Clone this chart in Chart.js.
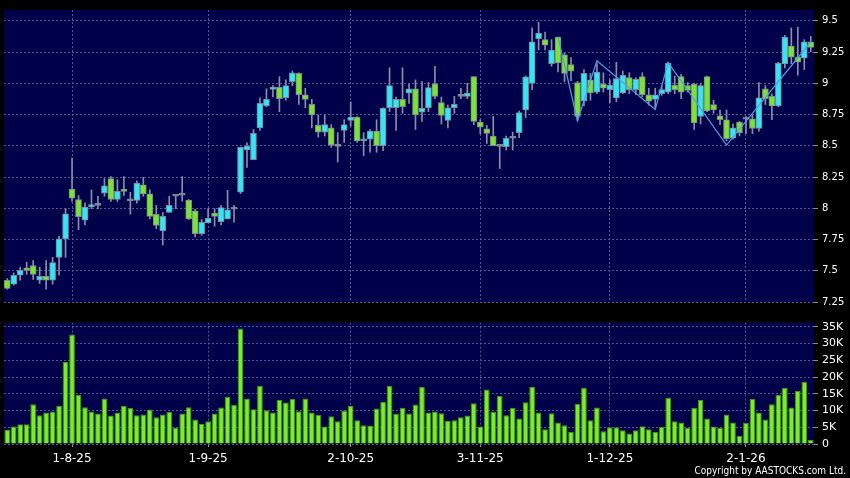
<!DOCTYPE html>
<html>
<head>
<meta charset="utf-8">
<script src="https://cdn.jsdelivr.net/npm/chart.js@4.4.1/dist/chart.umd.min.js"></script>
<style>
  html, body { margin: 0; padding: 0; background: #000; }
  #wrap { position: relative; width: 850px; height: 478px; overflow: hidden; background: #000; }
  #price { position: absolute; left: 0; top: 0; }
  #volume { position: absolute; left: 0; top: 312px; }
  #copy { position: absolute; right: 4px; top: 465px; line-height: 12px; color: #fff;
          font: 10px "DejaVu Sans Condensed", "DejaVu Sans", sans-serif; }
</style>
</head>
<body>
<div id="wrap">
  <canvas id="price" width="850" height="312"></canvas>
  <canvas id="volume" width="850" height="166"></canvas>
  <div id="copy">Copyright by AASTOCKS.com Ltd.</div>
</div>
<script>
// trading days, one per candle
const dates = [
  '18-7-25','21-7-25','22-7-25','23-7-25','24-7-25','25-7-25','28-7-25','29-7-25','30-7-25','31-7-25',
  '1-8-25','4-8-25','5-8-25','6-8-25','7-8-25','8-8-25','11-8-25','12-8-25','13-8-25','14-8-25','15-8-25',
  '18-8-25','19-8-25','20-8-25','21-8-25','22-8-25','25-8-25','26-8-25','27-8-25','28-8-25','29-8-25',
  '1-9-25','2-9-25','3-9-25','4-9-25','5-9-25','8-9-25','9-9-25','10-9-25','11-9-25','12-9-25','15-9-25',
  '16-9-25','17-9-25','18-9-25','19-9-25','22-9-25','23-9-25','24-9-25','25-9-25','26-9-25','29-9-25','30-9-25',
  '2-10-25','3-10-25','6-10-25','8-10-25','9-10-25','10-10-25','13-10-25','14-10-25','15-10-25','16-10-25',
  '17-10-25','20-10-25','21-10-25','22-10-25','23-10-25','24-10-25','27-10-25','28-10-25','30-10-25','31-10-25',
  '3-11-25','4-11-25','5-11-25','6-11-25','7-11-25','10-11-25','11-11-25','12-11-25','13-11-25','14-11-25',
  '17-11-25','18-11-25','19-11-25','20-11-25','21-11-25','24-11-25','25-11-25','26-11-25','27-11-25','28-11-25',
  '1-12-25','2-12-25','3-12-25','4-12-25','5-12-25','8-12-25','9-12-25','10-12-25','11-12-25','12-12-25','15-12-25',
  '16-12-25','17-12-25','18-12-25','19-12-25','22-12-25','23-12-25','24-12-25','29-12-25','30-12-25','31-12-25',
  '2-1-26','5-1-26','6-1-26','7-1-26','8-1-26','9-1-26','12-1-26','13-1-26','14-1-26','15-1-26','16-1-26'
];
const tickDates = ['1-8-25', '1-9-25', '2-10-25', '3-11-25', '1-12-25', '2-1-26'];

const opens = [
  7.424, 7.393, 7.464, 7.523, 7.542, 7.424, 7.456, 7.424, 7.607, 7.755,
  8.154, 8.070, 7.904, 8.010, 8.023, 8.120, 8.237, 8.070, 8.154, 8.060,
  8.063, 8.188, 8.115, 7.951, 7.818, 7.966, 8.096, 8.104, 8.065, 7.979,
  7.797, 7.883, 7.961, 7.893, 7.914, 7.992, 8.128, 8.466, 8.388, 8.643,
  8.818, 8.951, 8.968, 8.884, 9.012, 9.079, 8.908, 8.832, 8.664, 8.609,
  8.643, 8.495, 8.622, 8.703, 8.729, 8.539, 8.552, 8.617, 8.500, 8.804,
  8.804, 8.871, 8.921, 8.955, 8.768, 8.804, 8.996, 8.845, 8.703, 8.804,
  8.895, 8.895, 9.053, 8.690, 8.635, 8.578, 8.495, 8.492, 8.560, 8.604,
  8.786, 8.999, 9.357, 9.349, 9.157, 9.370, 9.227, 9.149, 9.006, 8.856,
  9.027, 8.929, 8.994, 8.949, 8.882, 8.923, 9.045, 8.949, 9.053, 8.908,
  8.871, 8.916, 8.929, 8.986, 9.053, 8.981, 8.994, 8.734, 9.053, 8.830,
  8.739, 8.708, 8.560, 8.690, 8.713, 8.716, 8.638, 8.955, 8.895, 8.819,
  9.155, 9.297, 9.209, 9.201, 9.331
];
const highs = [
  7.437, 7.482, 7.529, 7.568, 7.581, 7.529, 7.581, 7.607, 7.776, 7.997,
  8.401, 8.102, 8.044, 8.146, 8.096, 8.237, 8.253, 8.227, 8.253, 8.128,
  8.220, 8.247, 8.148, 8.023, 7.966, 8.096, 8.100, 8.253, 8.070, 7.992,
  7.909, 7.997, 7.997, 8.023, 8.143, 8.023, 8.490, 8.523, 8.630, 8.883,
  8.956, 8.982, 9.053, 9.027, 9.097, 9.084, 8.960, 8.871, 8.747, 8.747,
  8.669, 8.604, 8.708, 8.851, 8.734, 8.604, 8.630, 8.708, 8.804, 9.123,
  8.890, 9.123, 8.994, 9.027, 9.014, 9.006, 9.136, 8.890, 8.825, 8.895,
  8.960, 8.999, 9.053, 8.708, 8.664, 8.734, 8.500, 8.578, 8.609, 8.778,
  9.058, 9.443, 9.487, 9.409, 9.349, 9.370, 9.240, 9.206, 9.014, 9.110,
  9.079, 9.162, 9.084, 9.027, 9.168, 9.097, 9.084, 9.045, 9.084, 8.960,
  8.960, 8.981, 9.168, 9.058, 9.071, 9.006, 9.001, 9.001, 9.058, 8.864,
  8.786, 8.786, 8.674, 8.695, 8.734, 8.747, 9.006, 8.981, 8.916, 9.168,
  9.383, 9.443, 9.448, 9.349, 9.375
];
const lows = [
  7.352, 7.385, 7.424, 7.471, 7.430, 7.398, 7.352, 7.393, 7.464, 7.607,
  8.055, 7.828, 7.867, 7.997, 7.997, 8.096, 8.055, 8.055, 8.102, 7.953,
  8.040, 8.096, 7.914, 7.836, 7.706, 7.966, 7.997, 8.057, 7.909, 7.771,
  7.784, 7.883, 7.857, 7.867, 7.914, 7.888, 8.117, 8.326, 8.388, 8.622,
  8.812, 8.891, 8.773, 8.864, 8.981, 8.830, 8.804, 8.643, 8.570, 8.578,
  8.487, 8.370, 8.526, 8.656, 8.526, 8.422, 8.448, 8.448, 8.461, 8.773,
  8.622, 8.760, 8.838, 8.630, 8.695, 8.773, 8.877, 8.674, 8.643, 8.760,
  8.877, 8.877, 8.669, 8.596, 8.518, 8.500, 8.318, 8.466, 8.466, 8.565,
  8.726, 8.949, 9.266, 9.266, 9.136, 9.090, 9.012, 9.019, 8.700, 8.820,
  8.864, 8.916, 8.929, 8.845, 8.851, 8.916, 8.916, 8.908, 8.890, 8.825,
  8.794, 8.903, 8.916, 8.916, 8.877, 8.929, 8.630, 8.674, 8.773, 8.760,
  8.669, 8.539, 8.552, 8.578, 8.596, 8.596, 8.617, 8.830, 8.708, 8.812,
  9.123, 9.157, 9.064, 9.110, 9.253
];
const closes = [
  7.359, 7.464, 7.503, 7.503, 7.471, 7.456, 7.424, 7.565, 7.755, 7.956,
  8.081, 7.932, 8.010, 8.029, 8.023, 8.180, 8.070, 8.135, 8.135, 8.060,
  8.201, 8.115, 7.935, 7.862, 7.935, 8.023, 8.096, 8.104, 7.914, 7.797,
  7.888, 7.919, 7.935, 8.005, 7.987, 7.992, 8.487, 8.497, 8.599, 8.839,
  8.872, 8.969, 8.876, 8.981, 9.084, 8.908, 8.871, 8.747, 8.609, 8.669,
  8.505, 8.495, 8.669, 8.729, 8.539, 8.552, 8.617, 8.500, 8.799, 8.981,
  8.871, 8.812, 8.955, 8.747, 8.799, 8.965, 8.895, 8.742, 8.804, 8.832,
  8.895, 8.921, 8.695, 8.648, 8.599, 8.500, 8.495, 8.560, 8.560, 8.765,
  9.051, 9.331, 9.401, 9.305, 9.266, 9.162, 9.079, 9.097, 8.734, 9.079,
  8.923, 9.090, 8.960, 8.985, 9.038, 9.064, 8.949, 9.032, 8.908, 8.856,
  8.908, 8.949, 9.162, 8.949, 8.929, 8.942, 8.682, 8.981, 8.778, 8.786,
  8.708, 8.557, 8.643, 8.604, 8.713, 8.638, 8.884, 8.877, 8.819, 9.162,
  9.370, 9.209, 9.168, 9.331, 9.287
];
// volume in thousands of shares
const volumes = [
  4.2, 5.2, 5.9, 5.9, 11.9, 8.6, 9.4, 9.7, 11.4, 24.5,
  32.7, 14.7, 11.0, 9.7, 9.1, 13.6, 8.5, 9.4, 11.4, 10.8,
  8.6, 8.8, 10.3, 8.0, 8.8, 9.6, 4.9, 9.1, 11.0, 7.3,
  6.0, 6.8, 9.1, 10.9, 14.1, 11.7, 34.5, 13.6, 10.4, 17.4,
  10.1, 9.4, 13.2, 12.4, 13.4, 9.8, 13.6, 9.4, 8.7, 5.2,
  8.3, 6.8, 10.0, 11.4, 7.1, 5.6, 5.5, 10.6, 12.6, 17.4,
  9.0, 10.8, 9.1, 11.8, 17.0, 9.4, 9.7, 9.2, 6.9, 7.1,
  8.0, 8.5, 12.2, 5.2, 16.3, 9.6, 14.3, 8.6, 10.8, 7.6,
  12.5, 17.0, 9.4, 4.4, 9.2, 6.4, 5.6, 3.6, 12.0, 16.8,
  7.1, 10.9, 3.8, 5.0, 5.0, 4.1, 3.1, 4.1, 5.3, 4.4,
  3.6, 5.1, 13.8, 6.8, 6.4, 4.8, 10.8, 13.2, 7.6, 5.2,
  4.8, 8.8, 6.4, 2.4, 6.3, 13.4, 9.4, 7.3, 11.9, 14.7,
  16.7, 10.9, 15.8, 18.5, 1.2
];
// zigzag turning points (candle index, price)
const zigIdx = [85, 88, 91, 100, 102, 111, 124];
const zigVal = [9.37, 8.70, 9.18, 8.79, 9.165, 8.505, 9.33];

const priceTicks = [7.25, 7.5, 7.75, 8, 8.25, 8.5, 8.75, 9, 9.25, 9.5];
const volTicks = [0, 5, 10, 15, 20, 25, 30, 35];

const UP = '#2ee8f6';
const DOWN = '#7ae62a';
const FLAT = '#8c98a8';
const GRID = '#55558f';
const FONT = 'DejaVu Sans';

const zigzag = dates.map(() => null);
zigIdx.forEach((k, j) => { zigzag[k] = zigVal[j]; });

const shown = i => tickDates.includes(dates[i]);

const plotBg = {
  id: 'plotBg',
  beforeDraw(chart) {
    const { ctx, chartArea: a } = chart;
    ctx.save();
    ctx.fillStyle = '#00004a';
    ctx.fillRect(a.left, a.top, a.right - a.left, a.bottom - a.top);
    ctx.restore();
  }
};

new Chart(document.getElementById('price'), {
  type: 'bar',
  data: {
    labels: dates,
    datasets: [
      {
        type: 'line',
        data: zigzag,
        borderColor: '#4aa2e6',
        borderWidth: 1.2,
        pointRadius: 0,
        spanGaps: true,
        order: 0
      },
      {
        data: opens.map((o, i) => [o, closes[i]]),
        backgroundColor: closes.map((c, i) => c > opens[i] ? UP : (c < opens[i] ? DOWN : FLAT)),
        borderColor: '#7c8898',
        borderWidth: 1,
        borderSkipped: false,
        barThickness: 6,
        minBarLength: 2,
        grouped: false,
        order: 1
      },
      {
        data: lows.map((l, i) => [l, highs[i]]),
        backgroundColor: '#8a8ea6',
        barThickness: 1,
        grouped: false,
        order: 2
      }
    ]
  },
  options: {
    responsive: false,
    animation: false,
    layout: { padding: { left: 4, top: 6, right: 0, bottom: 6 } },
    plugins: { legend: { display: false }, tooltip: { enabled: false } },
    scales: {
      x: {
        offset: true,
        grid: { offset: false, drawTicks: false, color: c => shown(c.index) ? GRID : 'transparent' },
        border: { display: false, dash: [2, 2] },
        ticks: { display: false, autoSkip: false },
        afterFit: s => { s.height = 0; }
      },
      y: {
        position: 'right',
        min: 7.25,
        max: 9.586,
        afterBuildTicks: s => { s.ticks = priceTicks.map(v => ({ value: v })); },
        afterFit: s => { s.width = 36; },
        grid: { color: GRID, tickLength: 4, tickColor: '#8a8a9a', tickBorderDash: [] },
        border: { display: false, dash: [2, 2] },
        ticks: { color: '#fff', padding: 4, font: { family: FONT, size: 10 }, callback: v => String(v) }
      }
    }
  },
  plugins: [plotBg]
});

new Chart(document.getElementById('volume'), {
  type: 'bar',
  data: {
    labels: dates,
    datasets: [{
      data: volumes,
      backgroundColor: '#78f01e',
      borderColor: '#3e9a12',
      borderWidth: 1,
      barPercentage: 0.88,
      categoryPercentage: 1
    }]
  },
  options: {
    responsive: false,
    animation: false,
    layout: { padding: { left: 4, top: 7, right: 0, bottom: 10 } },
    plugins: { legend: { display: false }, tooltip: { enabled: false } },
    scales: {
      x: {
        grid: {
          offset: false,
          tickLength: 3,
          color: c => shown(c.index) ? GRID : 'transparent',
          tickColor: c => shown(c.index) ? '#9a9aa8' : 'transparent',
          tickBorderDash: []
        },
        border: { display: false, dash: [2, 2] },
        ticks: {
          autoSkip: false, maxRotation: 0, minRotation: 0, padding: 5,
          color: '#fff', font: { family: FONT, size: 12 },
          callback: (v, i) => shown(i) ? dates[i] : ''
        },
        afterFit: s => { s.height = 24; }
      },
      y: {
        position: 'right',
        min: 0,
        max: 36.25,
        afterBuildTicks: s => { s.ticks = volTicks.map(v => ({ value: v })); },
        afterFit: s => { s.width = 36; },
        grid: { color: GRID, tickLength: 4, tickColor: '#8a8a9a', tickBorderDash: [] },
        border: { display: false, dash: [2, 2] },
        ticks: { color: '#fff', padding: 4, font: { family: FONT, size: 11 }, callback: v => v === 0 ? '0' : v + 'K' }
      }
    }
  },
  plugins: [plotBg]
});
</script>
</body>
</html>
